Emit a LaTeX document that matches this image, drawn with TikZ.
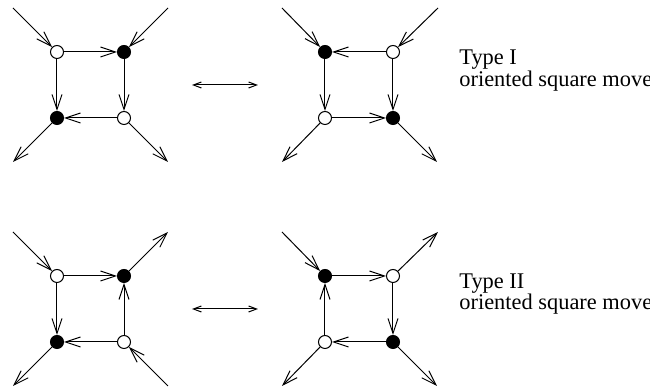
\documentclass[tikz,border=0pt]{standalone}
\usepackage{fontspec}
\setmainfont{Liberation Serif}
\newfontfamily\lserif{Liberation Serif}
\usetikzlibrary{arrows.meta}
\tikzset{
  wn/.style={circle,draw,fill=white,minimum size=6.5pt,inner sep=0pt,line width=0.5pt},
  bn/.style={circle,draw,fill=black,minimum size=6.5pt,inner sep=0pt,line width=0.5pt},
  ar/.style={line width=0.5pt,-{Straight Barb[length=7.5pt,width=5pt,line width=0.5pt]}},
  dar/.style={line width=0.5pt,{Straight Barb[length=4pt,width=3pt,line width=0.5pt]}-{Straight Barb[length=4pt,width=3pt,line width=0.5pt]}},
  lbl/.style={anchor=base west,inner sep=0pt,font=\lserif\fontsize{11.2pt}{13pt}\selectfont},
}
\begin{document}
\begin{tikzpicture}[x=0.5pt,y=-0.5pt]
\useasboundingbox (0,0) rectangle (650,389);
% ---------- Diagram A (top left) ----------
\begin{scope}
\node[wn] (aTL) at (57,52) {};
\node[bn] (aTR) at (124,52) {};
\node[bn] (aBL) at (57,118) {};
\node[wn] (aBR) at (124,118) {};
\coordinate (ao1) at (13,8);
\coordinate (ao2) at (168,8);
\coordinate (ao3) at (13,162);
\coordinate (ao4) at (168,162);
\draw[ar] (ao1) -- (aTL);
\draw[ar] (ao2) -- (aTR);
\draw[ar] (aTL) -- (aTR);
\draw[ar] (aTL) -- (aBL);
\draw[ar] (aTR) -- (aBR);
\draw[ar] (aBR) -- (aBL);
\draw[ar] (aBL) -- (ao3);
\draw[ar] (aBR) -- (ao4);
\end{scope}
% ---------- Diagram B (top right) ----------
\begin{scope}[shift={(268,0)}]
\node[bn] (bTL) at (57,52) {};
\node[wn] (bTR) at (125,52) {};
\node[wn] (bBL) at (57,118) {};
\node[bn] (bBR) at (125,118) {};
\coordinate (bo1) at (14,8);
\coordinate (bo2) at (170,8);
\coordinate (bo3) at (14,162);
\coordinate (bo4) at (169,162);
\draw[ar] (bo1) -- (bTL);
\draw[ar] (bo2) -- (bTR);
\draw[ar] (bTR) -- (bTL);
\draw[ar] (bTL) -- (bBL);
\draw[ar] (bTR) -- (bBR);
\draw[ar] (bBL) -- (bBR);
\draw[ar] (bBL) -- (bo3);
\draw[ar] (bBR) -- (bo4);
\end{scope}
% ---------- Diagram C (bottom left) ----------
\begin{scope}[shift={(0,224)}]
\node[wn] (cTL) at (57,52) {};
\node[bn] (cTR) at (124,52) {};
\node[bn] (cBL) at (57,118) {};
\node[wn] (cBR) at (124,118) {};
\coordinate (co1) at (13,8);
\coordinate (co2) at (168,8);
\coordinate (co3) at (13,162);
\coordinate (co4) at (168,162);
\draw[ar] (co1) -- (cTL);
\draw[ar] (cTL) -- (cTR);
\draw[ar] (cTL) -- (cBL);
\draw[ar] (cBR) -- (cTR);
\draw[ar] (cBR) -- (cBL);
\draw[ar] (cTR) -- (co2);
\draw[ar] (cBL) -- (co3);
\draw[ar] (co4) -- (cBR);
\end{scope}
% ---------- Diagram D (bottom right) ----------
\begin{scope}[shift={(268,224)}]
\node[bn] (dTL) at (57,52) {};
\node[wn] (dTR) at (125,52) {};
\node[wn] (dBL) at (57,118) {};
\node[bn] (dBR) at (125,118) {};
\coordinate (do1) at (14,8);
\coordinate (do2) at (170,8);
\coordinate (do3) at (14,162);
\coordinate (do4) at (169,162);
\draw[ar] (do1) -- (dTL);
\draw[ar] (dTL) -- (dTR);
\draw[ar] (dBL) -- (dTL);
\draw[ar] (dTR) -- (dBR);
\draw[ar] (dBR) -- (dBL);
\draw[ar] (dTR) -- (do2);
\draw[ar] (dBL) -- (do3);
\draw[ar] (dBR) -- (do4);
\end{scope}
% ---------- double arrows ----------
\coordinate (m1a) at (192,85);
\coordinate (m1b) at (258,85);
\coordinate (m2a) at (192,309);
\coordinate (m2b) at (258,309);
\draw[dar] (m1a) -- (m1b);
\draw[dar] (m2a) -- (m2b);
% ---------- labels ----------
\node[lbl] (t1) at (459,65) {Type I};
\node[lbl] (t2) at (459,87) {oriented square move};
\node[lbl] (t3) at (459,289) {Type II};
\node[lbl] (t4) at (459,310) {oriented square move};
\end{tikzpicture}
\end{document}
